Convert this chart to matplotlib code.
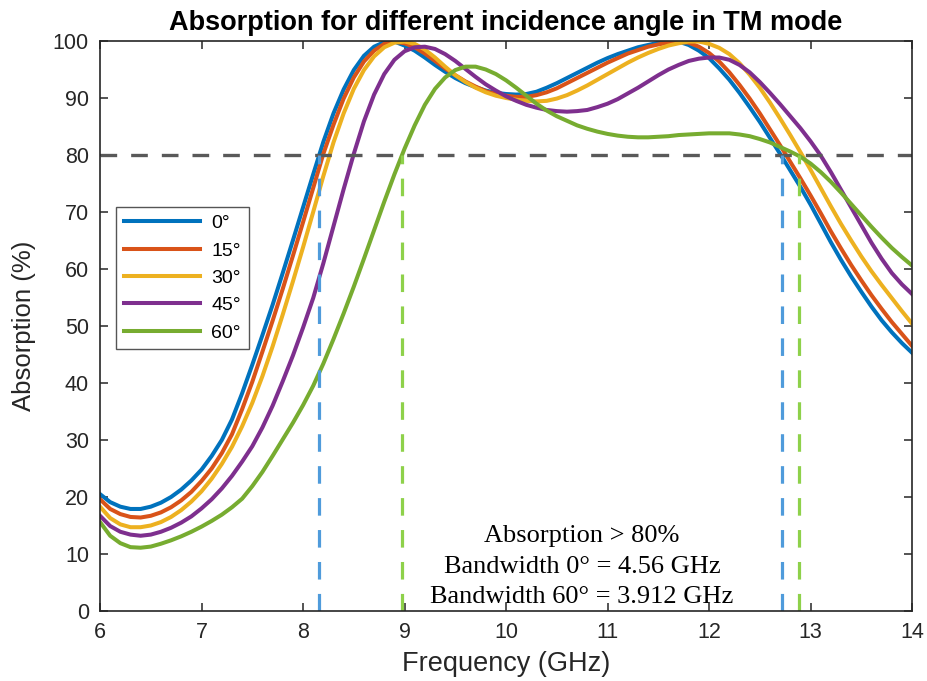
import matplotlib
matplotlib.use('Agg')
import matplotlib.pyplot as plt
import numpy as np

# frequency grid (GHz), 0.1 GHz step
freq = np.round(np.arange(6.0, 14.001, 0.1), 1)

abs_0 = [20.5, 19.1, 18.3, 17.9, 17.9, 18.3, 19.0, 20.0, 21.3, 22.9,
         24.8, 27.2, 30.0, 33.6, 38.2, 43.2, 48.4, 53.7, 59.3, 65.0,
         70.8, 76.6, 82.3, 87.3, 91.5, 94.9, 97.4, 99.0, 99.8, 99.9,
         99.2, 98.3, 97.1, 95.8, 94.6, 93.5, 92.6, 91.9, 91.3, 90.9,
         90.7, 90.6, 90.7, 91.1, 91.8, 92.6, 93.5, 94.4, 95.3, 96.2,
         97.0, 97.7, 98.3, 98.9, 99.3, 99.7, 99.9, 99.9, 99.3, 98.3,
         97.0, 95.2, 93.2, 90.9, 88.4, 85.8, 83.0, 80.2, 77.3, 74.4,
         71.3, 68.0, 64.7, 61.6, 58.7, 56.0, 53.4, 51.0, 48.9, 47.0, 45.3]
abs_15 = [19.6, 17.9, 17.0, 16.5, 16.4, 16.7, 17.3, 18.2, 19.4, 20.9,
          22.8, 25.0, 27.7, 31.0, 35.4, 40.2, 45.5, 50.9, 56.5, 62.3,
          68.2, 74.2, 80.2, 85.3, 89.9, 93.6, 96.4, 98.3, 99.5, 99.9,
          99.6, 98.9, 97.8, 96.5, 95.2, 94.0, 92.9, 92.0, 91.2, 90.7,
          90.4, 90.2, 90.2, 90.5, 91.0, 91.7, 92.6, 93.5, 94.4, 95.3,
          96.2, 97.0, 97.8, 98.4, 99.0, 99.4, 99.7, 99.9, 99.7, 99.0,
          97.9, 96.4, 94.5, 92.3, 89.9, 87.3, 84.5, 81.7, 78.8, 75.9,
          72.9, 69.8, 66.6, 63.6, 60.7, 58.0, 55.4, 53.0, 50.7, 48.6, 46.5]
abs_30 = [18.3, 16.3, 15.2, 14.7, 14.7, 15.0, 15.6, 16.5, 17.7, 19.2,
          21.0, 23.2, 25.8, 28.8, 32.4, 36.5, 41.2, 46.4, 52.0, 57.8,
          63.8, 70.0, 76.3, 82.2, 87.3, 91.6, 94.9, 97.3, 98.9, 99.7,
          99.9, 99.5, 98.5, 97.1, 95.5, 94.0, 92.8, 91.8, 91.0, 90.4,
          90.0, 89.7, 89.5, 89.4, 89.5, 89.9, 90.5, 91.3, 92.2, 93.2,
          94.2, 95.2, 96.2, 97.1, 97.9, 98.6, 99.2, 99.6, 99.9, 99.9,
          99.5, 98.8, 97.7, 96.1, 94.1, 91.8, 89.2, 86.4, 83.5, 80.5,
          77.4, 74.2, 71.0, 67.9, 65.0, 62.2, 59.6, 57.2, 54.9, 52.6, 50.4]
abs_45 = [16.7, 14.9, 13.9, 13.4, 13.2, 13.4, 13.9, 14.6, 15.5, 16.6,
          18.0, 19.6, 21.5, 23.7, 26.2, 28.9, 32.2, 36.0, 40.3, 44.8,
          49.7, 54.9, 61.0, 67.5, 74.0, 80.2, 85.9, 90.6, 94.2, 96.7,
          98.2, 98.9, 99.0, 98.6, 97.7, 96.5, 95.1, 93.7, 92.4, 91.3,
          90.3, 89.5, 88.8, 88.3, 87.9, 87.7, 87.6, 87.7, 87.9, 88.4,
          89.0, 89.8, 90.8, 91.8, 92.9, 94.0, 95.0, 95.8, 96.5, 96.9,
          97.1, 97.1, 96.7, 95.8, 94.5, 92.8, 90.9, 88.9, 86.8, 84.7,
          82.4, 79.9, 77.0, 73.9, 70.8, 67.7, 64.6, 61.8, 59.3, 57.3, 55.6]
abs_60 = [15.6, 13.2, 11.9, 11.2, 11.1, 11.3, 11.8, 12.4, 13.1, 13.9,
          14.8, 15.8, 16.9, 18.2, 19.7, 21.9, 24.4, 27.2, 30.1, 33.0,
          36.1, 39.5, 43.4, 47.7, 52.2, 56.9, 61.8, 66.8, 71.8, 76.6,
          81.1, 85.2, 88.8, 91.6, 93.6, 94.9, 95.5, 95.5, 95.0, 94.2,
          93.1, 91.8, 90.4, 89.0, 87.8, 86.8, 86.0, 85.2, 84.6, 84.1,
          83.7, 83.4, 83.2, 83.1, 83.1, 83.2, 83.3, 83.5, 83.6, 83.7,
          83.8, 83.8, 83.8, 83.6, 83.3, 82.8, 82.2, 81.4, 80.6, 79.7,
          78.5, 77.0, 75.3, 73.4, 71.4, 69.4, 67.4, 65.5, 63.7, 62.1, 60.6]

angles = ['0°', '15°', '30°', '45°', '60°']
colors = ['#0072BD', '#D95319', '#EDB120', '#7E2F8E', '#77AC30']

# band edges (GHz) where absorption = 80 %
band_0 = [8.16, 12.72]
band_60 = [8.975, 12.887]
threshold = 80

plt.rcParams['font.family'] = ['Liberation Sans', 'DejaVu Sans']

fig = plt.figure(figsize=(9.27, 6.81), dpi=100)
ax = fig.add_axes([0.1079, 0.1028, 0.876, 0.837])

for y, lab, c in zip([abs_0, abs_15, abs_30, abs_45, abs_60], angles, colors):
    ax.plot(freq, y, color=c, lw=2.9, label=lab, solid_joinstyle='round')

ax.plot([6, 14], [threshold, threshold], color='#595959', lw=2.4,
        dashes=(5, 4.2))
for xb in band_0:
    ax.plot([xb, xb], [0, threshold], color='#4F9BDB', lw=2.3, dashes=(5.5, 4.5))
for xb in band_60:
    ax.plot([xb, xb], [0, threshold], color='#8ED14A', lw=2.3, dashes=(5.5, 4.5))

ax.text(10.75, 7.8, 'Absorption > 80%\nBandwidth 0° = 4.56 GHz\nBandwidth 60° = 3.912 GHz',
        ha='center', va='center', fontsize=19, linespacing=1.5,
        family=['Liberation Serif', 'DejaVu Serif'])

ax.set_xlim(6, 14)
ax.set_ylim(0, 100)
ax.set_xticks(range(6, 15))
ax.set_yticks(range(0, 101, 10))
ax.tick_params(direction='in', top=True, right=True, length=6, width=1.1,
               labelsize=15.5, colors='#262626', pad=8)
for s in ax.spines.values():
    s.set_color('#262626')
    s.set_linewidth(1.2)

ax.set_xlabel('Frequency (GHz)', fontsize=19.5, color='#262626', labelpad=6)
ax.set_ylabel('Absorption (%)', fontsize=18.5, color='#262626', labelpad=12)
ax.set_title('Absorption for different incidence angle in TM mode',
             fontsize=19.5, fontweight='bold', pad=8)

leg = ax.legend(loc='upper left', bbox_to_anchor=(0.0197, 0.709), borderaxespad=0,
                fontsize=14, handlelength=3.9, labelspacing=0.5, fancybox=False,
                framealpha=1, edgecolor='#555555', borderpad=0.4, handletextpad=0.6)
leg.get_frame().set_linewidth(1.0)

fig.savefig('out.png', dpi=100)
